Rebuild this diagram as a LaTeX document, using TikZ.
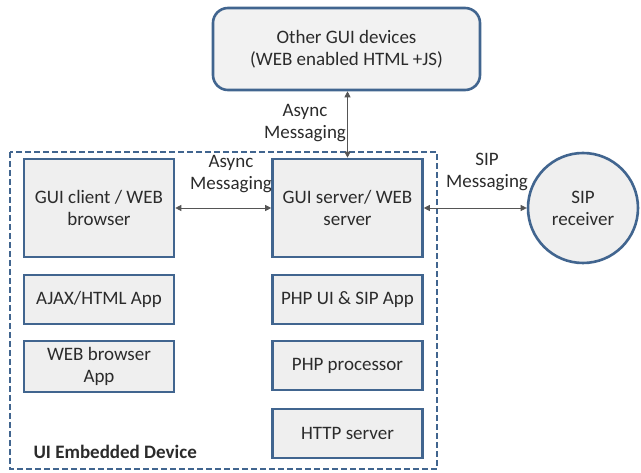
\documentclass[tikz,border=0pt]{standalone}
\usepackage{fontspec}
\setmainfont{Carlito}
\usetikzlibrary{arrows.meta}
\definecolor{edge}{HTML}{41658F}
\definecolor{boxfill}{HTML}{EFEFEF}
\definecolor{ink}{HTML}{2B2B2B}
\definecolor{wire}{HTML}{555555}
\tikzset{
  block/.style={draw=edge, line width=2.6pt, fill=boxfill, minimum width=150pt,
    align=center, text=ink, font=\fontsize{19}{22}\selectfont, inner sep=0pt},
  msg/.style={align=center, text=ink, font=\fontsize{19}{22}\selectfont},
  link/.style={draw=wire, line width=0.8pt, {Triangle[length=6pt,width=6pt]}-{Triangle[length=6pt,width=6pt]}}
}
\begin{document}
\begin{tikzpicture}[x=1pt,y=-1pt]
\useasboundingbox (0,0) rectangle (641,473);
% device frame
\draw[edge, line width=1.8pt, dash pattern=on 6pt off 3pt] (10,152) rectangle (437,469);
% external GUI devices
\node[block, rounded corners=15pt, minimum width=267pt, minimum height=82pt, fill=boxfill!80!white]
  (other) at (346.5,49) {Other GUI devices\\(WEB enabled HTML +JS)};
% left column
\node[block, minimum height=98pt] (client) at (99,208) {GUI client / WEB\\browser};
\node[block, minimum height=49pt] (ajax) at (99,299.5) {AJAX/HTML App};
\node[block, minimum height=51pt] (webapp) at (99,366.5) {WEB browser\\App};
% right column
\node[block, minimum height=98pt] (server) at (347.5,208) {GUI server/ WEB\\server};
\node[block, minimum height=49pt] (phpui) at (347.5,299.5) {PHP UI \& SIP App};
\node[block, minimum height=49pt] (phpproc) at (347.5,365.5) {PHP processor};
\node[block, minimum height=49pt] (http) at (347.5,433.5) {HTTP server};
% SIP endpoint
\node[block, circle, minimum width=110pt] (sip) at (583,208) {SIP\\receiver};
% connectors
\draw[link] (other.south -| server.north) -- (server.north);
\draw[link] (client.east) -- (server.west);
\draw[link] (server.east) -- (sip.west);
% labels
\node[msg] (lbltop) at (305,123) {Async\\Messaging};
\node[msg] (lblmid) at (231,174) {Async\\Messaging};
\node[msg] (lblsip) at (487,172) {SIP\\Messaging};
\node[anchor=west, text=ink, font=\fontsize{19}{22}\selectfont\bfseries] (dev) at (30,452) {UI Embedded Device};
\end{tikzpicture}
\end{document}
